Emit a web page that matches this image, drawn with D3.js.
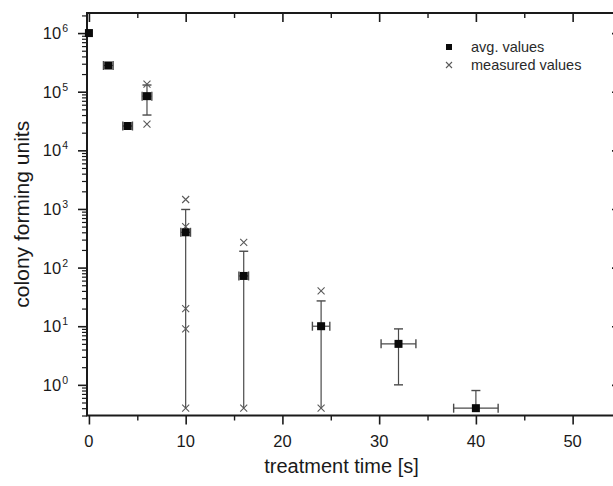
<!DOCTYPE html>
<html><head><meta charset="utf-8">
<script src="https://cdn.jsdelivr.net/npm/d3@7"></script>
<style>
body{margin:0;background:#fff;}
svg{display:block;font-family:Arial,"Liberation Sans",sans-serif;}
</style></head>
<body><svg id="c" width="613" height="486"></svg>
<script>
// ---- data ----
const times   = [0, 2, 4, 6, 10, 16, 24, 32, 40];
const avgVals = [1e6, 2.8e5, 2.6e4, 8.4e4, 400, 72, 10, 5, 0.4];
const errLow  = [1e6, 2.8e5, 2.6e4, 4e4, 0.4, 0.4, 0.4, 1, 0.4];
const errHigh = [1e6, 2.8e5, 2.6e4, 1.3e5, 980, 190, 27, 9, 0.8];
const xErr    = [0, 0.5, 0.5, 0.5, 0.5, 0.5, 0.9, 1.8, 2.3];
const measTimes = [6, 6, 10, 10, 10, 10, 10, 16, 16, 24, 24];
const measVals  = [1.35e5, 2.8e4, 1450, 500, 20, 9, 0.4, 270, 0.4, 40, 0.4];
const xTicks = [0, 10, 20, 30, 40, 50];
const xMinor = [5, 15, 25, 35, 45];
const yTicks = [1, 10, 100, 1000, 1e4, 1e5, 1e6];
const yExps  = [0, 1, 2, 3, 4, 5, 6];
const xTitle = "treatment time [s]";
const yTitle = "colony forming units";
const legendLabels = ["avg. values", "measured values"];

// ---- layout ----
const L = 87, R = 621, T = 13, B = 415.5;
const svg = d3.select("#c");
const x = d3.scaleLinear().domain([-0.2, 55]).range([L, R]);
const y = d3.scaleLog().domain([0.3, 2.2e6]).range([B, T]);
const ink = "#1a1a1a";

// minor log ticks
const yMinor = [];
for (let e = -1; e <= 6; e++) for (let m = 2; m <= 9; m++) {
  const v = m * Math.pow(10, e);
  if (v >= 0.3 && v <= 2.2e6) yMinor.push(v);
}

function styleAxis(g, w) {
  g.select(".domain").remove();
  g.selectAll(".tick line").attr("stroke", ink).attr("stroke-width", w);
  g.selectAll(".tick text").remove();
}
// bottom (outward)
svg.append("g").attr("transform", `translate(0,${B})`)
  .call(d3.axisBottom(x).tickValues(xTicks).tickSize(9)).call(g => styleAxis(g, 1.6));
svg.append("g").attr("transform", `translate(0,${B})`)
  .call(d3.axisBottom(x).tickValues(xMinor).tickSize(5)).call(g => styleAxis(g, 1.4));
// top (inward)
svg.append("g").attr("transform", `translate(0,${T})`)
  .call(d3.axisBottom(x).tickValues(xTicks).tickSize(9)).call(g => styleAxis(g, 1.6));
svg.append("g").attr("transform", `translate(0,${T})`)
  .call(d3.axisBottom(x).tickValues(xMinor).tickSize(5)).call(g => styleAxis(g, 1.4));
// left (outward)
svg.append("g").attr("transform", `translate(${L},0)`)
  .call(d3.axisLeft(y).tickValues(yTicks).tickSize(9)).call(g => styleAxis(g, 1.6));
svg.append("g").attr("transform", `translate(${L},0)`)
  .call(d3.axisLeft(y).tickValues(yMinor).tickSize(5)).call(g => styleAxis(g, 1.2));
// right (inward)
svg.append("g").attr("transform", `translate(${R},0)`)
  .call(d3.axisLeft(y).tickValues(yTicks).tickSize(9)).call(g => styleAxis(g, 1.6));
svg.append("g").attr("transform", `translate(${R},0)`)
  .call(d3.axisLeft(y).tickValues(yMinor).tickSize(5)).call(g => styleAxis(g, 1.2));

// frame
svg.append("rect").attr("x", L).attr("y", T).attr("width", R - L).attr("height", B - T)
  .attr("fill", "none").attr("stroke", ink).attr("stroke-width", 2);

// x tick labels
svg.append("g").selectAll("text").data(xTicks).join("text")
  .attr("x", d => x(d)).attr("y", B + 31).attr("text-anchor", "middle")
  .attr("font-size", 16.5).attr("fill", ink).text(d => d);

// y tick labels
const yl = svg.append("g").selectAll("text").data(yTicks).join("text")
  .attr("x", 60).attr("y", d => y(d) + 6).attr("text-anchor", "end")
  .attr("font-size", 16.5).attr("fill", ink);
yl.append("tspan").text("10");
yl.append("tspan").attr("font-size", 10.5).attr("dy", -7).attr("dx", 1)
  .text((d, i) => yExps[i]);
yl.attr("x", 68);

// titles
svg.append("text").attr("x", (L + 620) / 2 - 12).attr("y", 473).attr("text-anchor", "middle")
  .attr("font-size", 20).attr("fill", ink).text(xTitle);
svg.append("text").attr("transform", `translate(29,${(T + B) / 2}) rotate(-90)`)
  .attr("text-anchor", "middle").attr("font-size", 21).attr("fill", ink).text(yTitle);

const plot = svg.append("g");
const grey = "#4a4a4a";

// error bars
const idx = d3.range(times.length);
const cap = 4.5;
idx.forEach(i => {
  const cx = x(times[i]), cy = y(avgVals[i]);
  if (errHigh[i] !== errLow[i]) {
    const y1 = y(errHigh[i]), y0 = y(errLow[i]);
    plot.append("line").attr("x1", cx).attr("x2", cx).attr("y1", y1).attr("y2", y0)
      .attr("stroke", grey).attr("stroke-width", 1.2);
    plot.append("line").attr("x1", cx - cap).attr("x2", cx + cap).attr("y1", y1).attr("y2", y1)
      .attr("stroke", grey).attr("stroke-width", 1.4);
    if (errLow[i] !== avgVals[i] && errLow[i] > 0.45)
      plot.append("line").attr("x1", cx - cap).attr("x2", cx + cap).attr("y1", y0).attr("y2", y0)
        .attr("stroke", grey).attr("stroke-width", 1.4);
  }
  if (xErr[i] > 0) {
    const xa = x(times[i] - xErr[i]), xb = x(times[i] + xErr[i]);
    plot.append("line").attr("x1", xa).attr("x2", xb).attr("y1", cy).attr("y2", cy)
      .attr("stroke", grey).attr("stroke-width", 1.2);
    [xa, xb].forEach(xx => plot.append("line").attr("x1", xx).attr("x2", xx)
      .attr("y1", cy - cap).attr("y2", cy + cap).attr("stroke", grey).attr("stroke-width", 1.4));
  }
});

// measured values (x markers)
const ms = 3.5;
function cross(g, cx, cy, s) {
  g.append("path").attr("d", `M${cx - s},${cy - s}L${cx + s},${cy + s}M${cx - s},${cy + s}L${cx + s},${cy - s}`)
    .attr("stroke", "#5a5a5a").attr("stroke-width", 1.1).attr("fill", "none");
}
measTimes.forEach((t, i) => cross(plot, x(t), y(measVals[i]), ms));

// averages (squares)
const sq = 8;
plot.selectAll("rect.avg").data(idx).join("rect").attr("class", "avg")
  .attr("x", i => x(times[i]) - sq / 2).attr("y", i => y(avgVals[i]) - sq / 2)
  .attr("width", sq).attr("height", sq).attr("fill", "#0a0a0a");

// legend
const lg = svg.append("g");
lg.append("rect").attr("x", 446).attr("y", 44).attr("width", 6).attr("height", 6).attr("fill", "#0a0a0a");
cross(lg, 449, 65, 3);
lg.append("text").attr("x", 471).attr("y", 52).attr("font-size", 14.5).attr("fill", "#2a2a2a").text(legendLabels[0]);
lg.append("text").attr("x", 471).attr("y", 70).attr("font-size", 14.5).attr("fill", "#2a2a2a").text(legendLabels[1]);
</script></body></html>
